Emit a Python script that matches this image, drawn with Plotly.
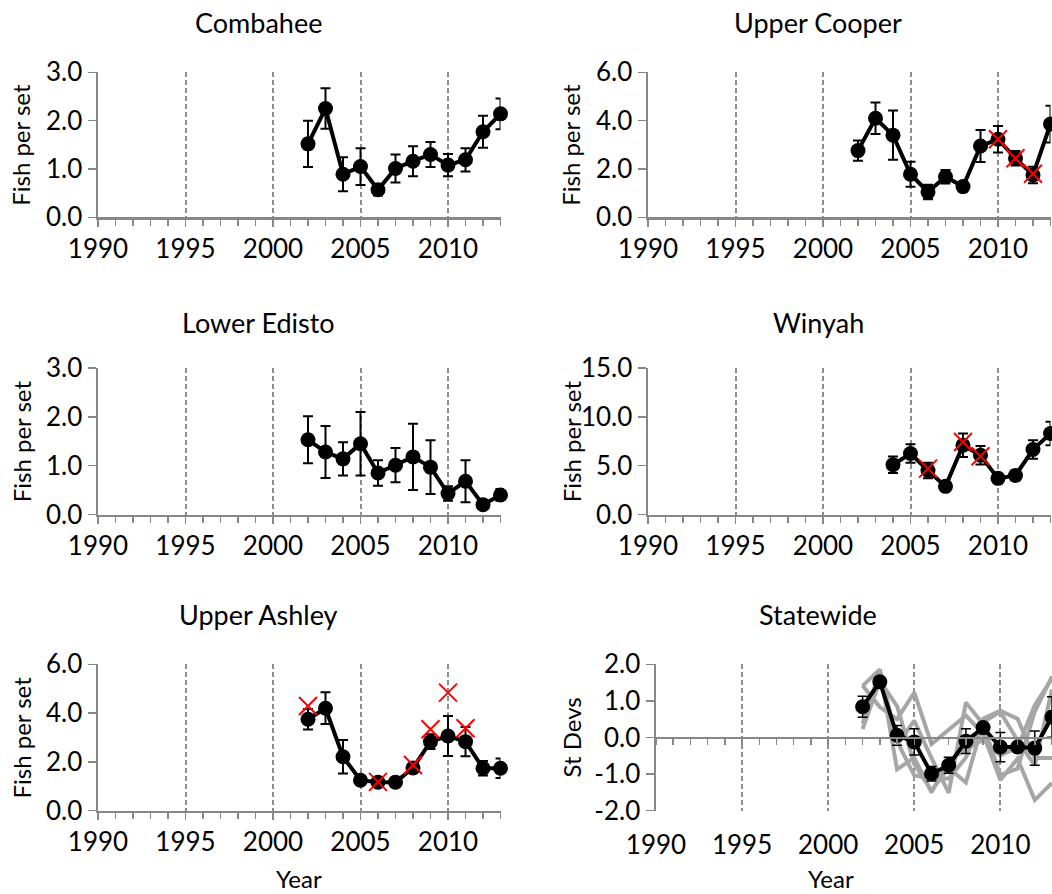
import plotly.graph_objects as go

# ---------------- data ----------------
years = [2002, 2003, 2004, 2005, 2006, 2007, 2008, 2009, 2010, 2011, 2012, 2013]
years_winyah = [2004, 2005, 2006, 2007, 2008, 2009, 2010, 2011, 2012, 2013]

combahee = [1.52, 2.25, 0.89, 1.05, 0.57, 1.01, 1.16, 1.30, 1.08, 1.19, 1.77, 2.14]
combahee_err = [0.48, 0.42, 0.35, 0.38, 0.12, 0.29, 0.31, 0.26, 0.23, 0.24, 0.33, 0.32]

cooper = [2.76, 4.10, 3.40, 1.78, 1.05, 1.68, 1.27, 2.95, 3.23, 2.44, 1.75, 3.86]
cooper_err = [0.42, 0.65, 1.02, 0.52, 0.30, 0.28, 0.20, 0.66, 0.55, 0.30, 0.34, 0.76]
cooper_x_years = [2010, 2011, 2012]
cooper_x_vals = [3.23, 2.44, 1.80]

edisto = [1.53, 1.28, 1.14, 1.45, 0.85, 1.01, 1.18, 0.97, 0.43, 0.68, 0.20, 0.40]
edisto_err = [0.48, 0.53, 0.34, 0.65, 0.26, 0.35, 0.68, 0.55, 0.15, 0.43, 0.07, 0.12]

winyah = [5.10, 6.24, 4.50, 2.88, 7.09, 6.06, 3.70, 4.00, 6.65, 8.30]
winyah_err = [0.85, 0.95, 0.80, 0.40, 1.20, 0.95, 0.50, 0.50, 0.95, 1.20]
winyah_x_years = [2006, 2008, 2009]
winyah_x_vals = [4.70, 7.43, 5.96]

ashley = [3.75, 4.20, 2.21, 1.25, 1.17, 1.17, 1.75, 2.83, 3.06, 2.83, 1.74, 1.74]
ashley_err = [0.42, 0.65, 0.69, 0.15, 0.12, 0.12, 0.15, 0.30, 0.82, 0.60, 0.30, 0.40]
ashley_x_years = [2002, 2006, 2008, 2009, 2010, 2011]
ashley_x_vals = [4.29, 1.18, 1.87, 3.34, 4.84, 3.38]

statewide = [0.84, 1.52, 0.06, -0.12, -0.99, -0.76, -0.10, 0.27, -0.26, -0.26, -0.29, 0.56]
statewide_err = [0.29, 0.10, 0.27, 0.36, 0.20, 0.22, 0.34, 0.10, 0.40, 0.10, 0.47, 0.55]
gray_combahee = [0.38, 1.83, -0.87, -0.55, -1.50, -0.63, -0.33, -0.06, -0.49, -0.27, 0.88, 1.61]
gray_cooper = [0.23, 1.55, 0.86, -0.73, -1.45, -0.83, -1.23, 0.42, 0.70, -0.08, -0.76, 1.31]
gray_edisto = [1.42, 0.83, 0.50, 1.23, -0.18, 0.20, 0.60, 0.10, -1.16, -0.58, -1.71, -1.24]
gray_winyah = [-0.21, 0.46, -0.56, -1.51, 0.96, 0.36, -1.03, -0.85, 0.71, 1.67]
gray_ashley = [1.41, 1.86, -0.10, -1.04, -1.12, -1.12, -0.55, 0.51, 0.73, 0.51, -0.56, -0.56]

year_ticks = [1990, 1995, 2000, 2005, 2010]
titles = ["Combahee", "Upper Cooper", "Lower Edisto", "Winyah", "Upper Ashley", "Statewide"]
y_titles = ["Fish per set", "Fish per set", "Fish per set", "Fish per set", "Fish per set", "St Devs"]
y_ranges = [[0, 3], [0, 6], [0, 3], [0, 15], [0, 6], [-2, 2]]
y_dticks = [1, 2, 1, 5, 2, 1]
state_ticks = [-2, -1, 0, 1, 2]
state_ticktext = ["-2.0", "-1.0", "0.0", "1.0", "2.0"]

# ---------------- layout geometry ----------------
W, H = 1052, 894
FONT = "Lato"
AX = "#878787"
GRID = "#8f8f8f"
RED = "#ff0000"


def px_x(p):
    return p / W


def px_y(p):
    return 1 - p / H


col_dom = [[px_x(98), px_x(500.5)], [px_x(648), px_x(1050.5)]]
state_dom = [px_x(656), 1.0]
row_dom = [[px_y(217.3), px_y(72.3)], [px_y(514.5), px_y(368)], [px_y(810.7), px_y(664.3)]]

fig = go.Figure()


def add_main(i, xs, ys, es):
    n = "" if i == 1 else str(i)
    fig.add_trace(go.Scatter(
        x=xs, y=ys, mode="lines+markers",
        line=dict(color="black", width=4),
        marker=dict(color="black", size=15),
        error_y=dict(type="data", array=es, color="black", thickness=2, width=5),
        xaxis="x" + n, yaxis="y" + n, showlegend=False, cliponaxis=False))


def add_x(i, xs, ys):
    n = "" if i == 1 else str(i)
    fig.add_trace(go.Scatter(
        x=xs, y=ys, mode="markers",
        marker=dict(symbol="x-thin-open", size=18, color=RED, line=dict(color=RED, width=2)),
        xaxis="x" + n, yaxis="y" + n, showlegend=False, cliponaxis=False))


add_main(1, years, combahee, combahee_err)
add_main(2, years, cooper, cooper_err)
add_x(2, cooper_x_years, cooper_x_vals)
add_main(3, years, edisto, edisto_err)
add_main(4, years_winyah, winyah, winyah_err)
add_x(4, winyah_x_years, winyah_x_vals)
add_main(5, years, ashley, ashley_err)
add_x(5, ashley_x_years, ashley_x_vals)

for xs, g in [(years, gray_combahee), (years, gray_cooper), (years, gray_edisto),
              (years_winyah, gray_winyah), (years, gray_ashley)]:
    fig.add_trace(go.Scatter(x=xs, y=g, mode="lines", line=dict(color="#a6a6a6", width=4),
                             xaxis="x6", yaxis="y6", showlegend=False, cliponaxis=False))

fig.add_trace(go.Scatter(
    x=years, y=statewide, mode="lines+markers",
    line=dict(color="black", width=4), marker=dict(color="black", size=15),
    error_y=dict(type="data", array=statewide_err, color="black", thickness=1.5, width=5),
    xaxis="x7", yaxis="y6", showlegend=False, cliponaxis=False))

tickfont = dict(family=FONT, size=26, color="black")
layout = dict(template="none", width=W, height=H, margin=dict(l=0, r=0, t=0, b=0, pad=0),
              autosize=False,
              paper_bgcolor="white", plot_bgcolor="white", showlegend=False,
              font=dict(family=FONT, color="black"))

for i in range(1, 7):
    n = "" if i == 1 else str(i)
    r, c = (i - 1) // 2, (i - 1) % 2
    xd = state_dom if i == 6 else col_dom[c]
    xa = dict(domain=xd, range=[1990, 2013], anchor="y" + n, automargin=False,
              showgrid=True, gridcolor=GRID, gridwidth=2, griddash="5px,3px",
              tickvals=year_ticks, ticktext=[str(v) for v in year_ticks],
              tickfont=tickfont, zeroline=False)
    if i == 6:
        xa.update(anchor="free", position=row_dom[2][0] + (row_dom[2][1] - row_dom[2][0]) / 2,
                  showline=True, linecolor=AX, linewidth=2.5,
                  ticks="outside", ticklen=6, tickcolor=AX, tickwidth=1.5,
                  showticklabels=False,
                  minor=dict(dtick=1, tick0=1990, ticks="outside", ticklen=6, tickcolor=AX, tickwidth=1.5))
    else:
        xa.update(showline=True, linecolor=AX, linewidth=2.5,
                  ticks="outside", ticklen=7, tickcolor=AX, tickwidth=1.5,
                  minor=dict(dtick=1, tick0=1990, ticks="outside", ticklen=6, tickcolor=AX, tickwidth=1.5))
    layout["xaxis" + n] = xa
    ya = dict(domain=row_dom[r], range=y_ranges[i - 1], anchor="x" + n, automargin=False,
              showgrid=False, zeroline=False, showline=True, linecolor=AX, linewidth=2.5,
              ticks="outside", ticklen=8, tickcolor=AX, tickwidth=1.5,
              tickfont=tickfont, dtick=y_dticks[i - 1], tick0=0, tickformat=".1f")
    if i == 6:
        ya.update(tickmode="array", tickvals=state_ticks, ticktext=state_ticktext)
    layout["yaxis" + n] = ya

layout["xaxis7"] = dict(overlaying="x6", range=[1990, 2013], anchor="y6", side="bottom",
                        automargin=False,
                        showline=False, showgrid=False, zeroline=False, ticks="",
                        tickvals=year_ticks, ticktext=[str(v) for v in year_ticks],
                        tickfont=tickfont, ticklabelstandoff=16)

fig.update_layout(**layout)

# titles
title_pos = [(258, 23), (818, 23), (258, 322), (818, 322), (258, 614), (818, 614)]
for t, (x, y) in zip(titles, title_pos):
    fig.add_annotation(text=t, x=px_x(x), y=px_y(y), xref="paper", yref="paper",
                       showarrow=False, xanchor="center", yanchor="middle",
                       font=dict(family=FONT, size=27, color="black"))

ytitle_x = [21, 571]
for i, t in enumerate(y_titles):
    r, c = i // 2, i % 2
    fig.add_annotation(text=t, x=px_x(ytitle_x[c]), y=(row_dom[r][0] + row_dom[r][1]) / 2,
                       xref="paper", yref="paper", showarrow=False, textangle=-90,
                       xanchor="center", yanchor="middle",
                       font=dict(family=FONT, size=24, color="black"))

for x in [299, 831]:
    fig.add_annotation(text="Year", x=px_x(x), y=px_y(878), xref="paper", yref="paper",
                       showarrow=False, xanchor="center", yanchor="middle",
                       font=dict(family=FONT, size=24, color="black"))

fig.write_html("out.html", config={"displayModeBar": False, "staticPlot": True},
               post_script="document.body.style.margin='0';document.body.style.padding='0';"
                           "document.documentElement.style.overflow='hidden';")
